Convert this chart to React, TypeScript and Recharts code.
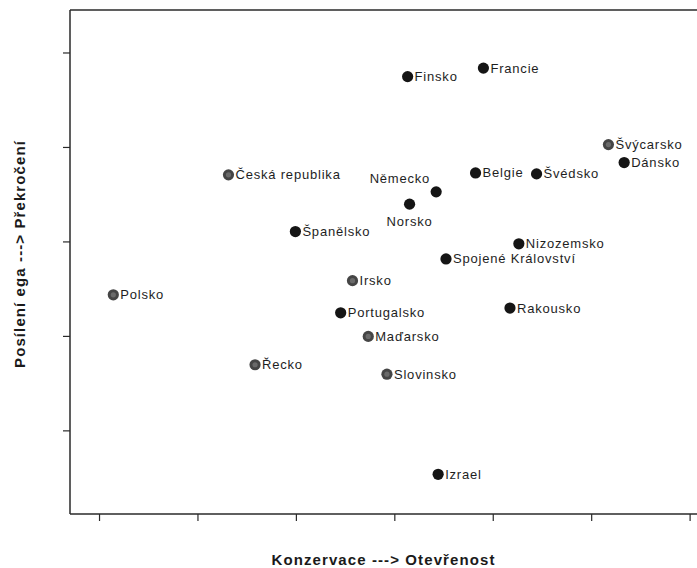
import React from 'react';
import { ScatterChart, Scatter, XAxis, YAxis, ReferenceLine, LabelList } from 'recharts';

const countries = [
  'Finsko', 'Francie', 'Švýcarsko', 'Dánsko', 'Belgie', 'Švédsko', 'Německo', 'Norsko',
  'Nizozemsko', 'Spojené Království', 'Irsko', 'Česká republika', 'Španělsko', 'Polsko',
  'Řecko', 'Portugalsko', 'Maďarsko', 'Slovinsko', 'Rakousko', 'Izrael',
];
const opennessValues = [
  3.13, 3.90, 5.17, 5.33, 3.82, 4.44, 3.42, 3.15,
  4.26, 3.52, 2.57, 1.31, 1.99, 0.14,
  1.58, 2.45, 2.73, 2.92, 4.17, 3.44,
];
const transcendenceValues = [
  3.75, 3.84, 3.03, 2.84, 2.73, 2.72, 2.53, 2.40,
  1.98, 1.82, 1.59, 2.71, 2.11, 1.44,
  0.70, 1.25, 1.00, 0.60, 1.30, -0.46,
];
const greyCountries = ['Švýcarsko', 'Irsko', 'Česká republika', 'Polsko', 'Řecko', 'Maďarsko', 'Slovinsko'];
const xTicks = [0, 1, 2, 3, 4, 5, 6];
const yTicks = [0, 1, 2, 3, 4];
const xDomain = [-0.3, 6.07];
const yDomain = [-0.88, 4.455];

const data = countries.map((name, i) => ({ name, x: opennessValues[i], y: transcendenceValues[i] }));

const FONT = 'Liberation Sans, Arial, sans-serif';
const AXIS = '#2a2a2a';

const Dot = (props: any) => {
  const { cx, cy, payload } = props;
  const grey = greyCountries.includes(payload.name);
  return (
    <g>
      <circle cx={cx} cy={cy} r={5.6} fill={grey ? '#454545' : '#151515'} />
      {grey && <circle cx={cx} cy={cy} r={2.6} fill="#6a6a6a" />}
    </g>
  );
};

const CountryLabel = (props: any) => {
  const { x, y, width, height, value } = props;
  const cx = x + (width || 0) / 2;
  const cy = y + (height || 0) / 2;
  let tx = cx + 7;
  let ty = cy + 4.5;
  let anchor: 'start' | 'middle' | 'end' = 'start';
  if (value === 'Německo') {
    tx = cx - 6;
    ty = cy - 9;
    anchor = 'end';
  } else if (value === 'Norsko') {
    tx = cx;
    ty = cy + 22;
    anchor = 'middle';
  }
  return (
    <text
      x={tx}
      y={ty}
      textAnchor={anchor}
      fontFamily={FONT}
      fontSize={13}
      letterSpacing={0.8}
      fill="#1e1e1e"
    >
      {value}
    </text>
  );
};

const YTitle = () => (
  <text
    x={19}
    y={254}
    transform="rotate(-90 19 254)"
    textAnchor="middle"
    dominantBaseline="central"
    fontFamily={FONT}
    fontSize={15}
    fontWeight="bold"
    letterSpacing={1.1}
    fill="#1a1a1a"
  >
    Posílení ega ---&gt; Překročení
  </text>
);

export default function App() {
  return (
    <div style={{ width: 697, height: 568, background: '#fff' }}>
      <style>{`html,body{margin:0;padding:0;background:#fff;overflow:hidden;}`}</style>
      <ScatterChart width={697} height={568} margin={{ top: 10, right: 0, bottom: 20, left: 50 }}>
        <XAxis
          type="number"
          dataKey="x"
          domain={xDomain}
          ticks={xTicks}
          allowDataOverflow
          height={34}
          tickSize={7}
          tickFormatter={() => ''}
          axisLine={{ stroke: AXIS, strokeWidth: 1.5 }}
          tickLine={{ stroke: AXIS, strokeWidth: 1.2 }}
          label={{
            value: 'Konzervace ---> Otevřenost',
            position: 'insideBottom',
            offset: -17,
            style: { fontFamily: FONT, fontSize: 15, fontWeight: 'bold', letterSpacing: 1.1, fill: '#1a1a1a' },
          }}
        />
        <YAxis
          type="number"
          dataKey="y"
          domain={yDomain}
          ticks={yTicks}
          allowDataOverflow
          width={20}
          tickSize={7}
          tickFormatter={() => ''}
          axisLine={{ stroke: AXIS, strokeWidth: 1.5 }}
          tickLine={{ stroke: AXIS, strokeWidth: 1.2 }}
          label={{ content: () => <YTitle /> }}
        />
        <ReferenceLine y={yDomain[1]} stroke={AXIS} strokeWidth={1.5} ifOverflow="visible" />
        <Scatter data={data} shape={Dot} isAnimationActive={false}>
          <LabelList dataKey="name" content={CountryLabel} />
        </Scatter>
      </ScatterChart>
    </div>
  );
}
